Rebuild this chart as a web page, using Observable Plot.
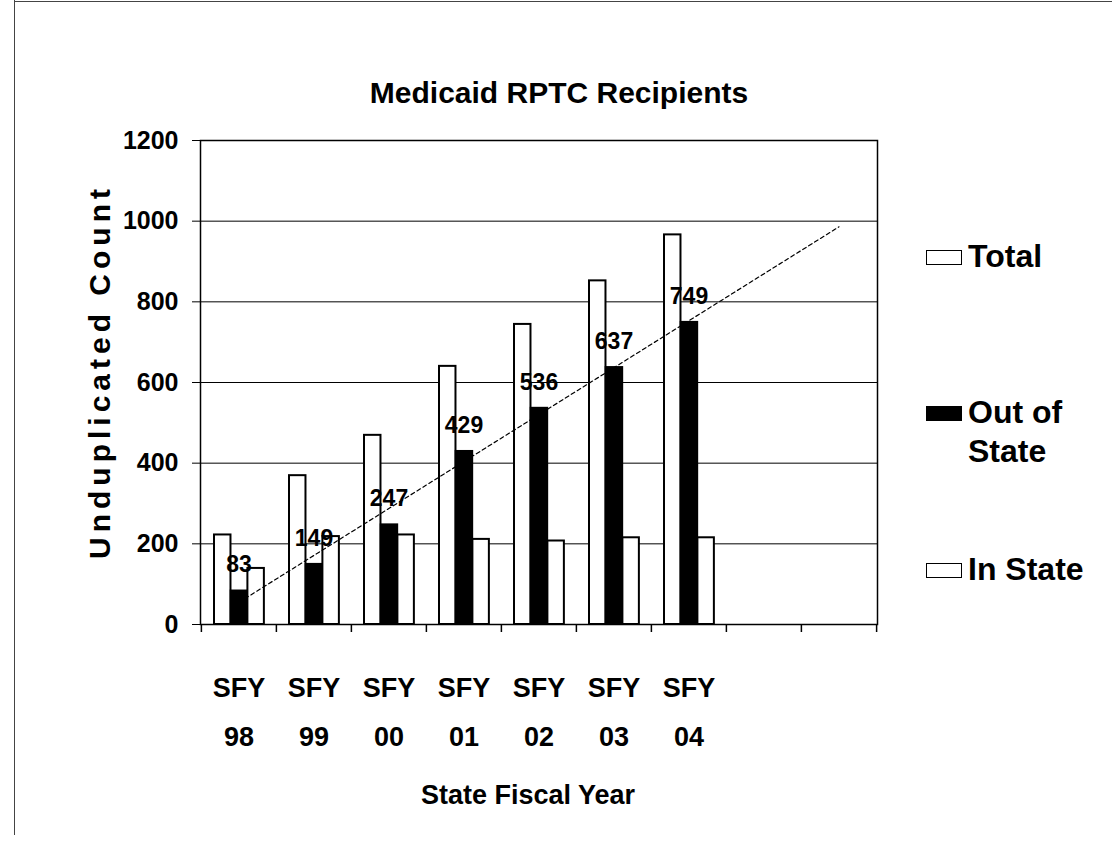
<!DOCTYPE html>
<html>
<head>
<meta charset="utf-8">
<script src="https://cdn.jsdelivr.net/npm/d3@7"></script>
<script src="https://cdn.jsdelivr.net/npm/@observablehq/plot@0.6"></script>
<style>
  html, body { margin: 0; padding: 0; background: white; }
  #wrap { position: relative; width: 1112px; height: 842px; overflow: hidden; background: white;
          font-family: "Liberation Sans", Arial, sans-serif; font-weight: bold; color: black; }
  #wrap svg { position: absolute; left: 0; top: 0; }
  .edgeL { position: absolute; left: 14px; top: 0; width: 0; height: 835px; border-left: 1px solid #444; }
  .edgeT { position: absolute; left: 14px; top: 1px; width: 1098px; height: 0; border-top: 1px solid #444; }
  .leg { position: absolute; font-size: 32px; line-height: 39px; }
  .sw { position: absolute; width: 34px; height: 13px; border: 1.5px solid black; background: white; }
</style>
</head>
<body>
<div id="wrap">
  <div class="edgeL"></div>
  <div class="edgeT"></div>
</div>
<script>
// ---- data ----
const years = ["SFY 98", "SFY 99", "SFY 00", "SFY 01", "SFY 02", "SFY 03", "SFY 04"];
const emptySlots = ["", " "];
const tickLabels = ["SFY\n98", "SFY\n99", "SFY\n00", "SFY\n01", "SFY\n02", "SFY\n03", "SFY\n04"];
const totalVals = [222, 369, 469, 640, 744, 852, 966];
const outVals = [83, 149, 247, 429, 536, 637, 749];
const inVals = [139, 218, 222, 211, 207, 215, 215];
const trendCats = ["SFY 98", " "];
const trendVals = [55, 986];
const yTicks = [0, 200, 400, 600, 800, 1000, 1200];
const seriesNames = ["Total", "Out of\nState", "In State"];
const titleText = "Medicaid RPTC Recipients";
const yTitle = "Unduplicated Count";
const xTitle = "State Fiscal Year";

// ---- tables built from the arrays ----
const slots = years.concat(emptySlots);
const rows = years.map((c, i) => ({cat: c, total: totalVals[i], out: outVals[i], inState: inVals[i], label: tickLabels[i]}));
const trend = trendCats.map((c, i) => ({cat: c, v: trendVals[i]}));

const bw = (1112 - 200 - 235) / slots.length;

const chart = Plot.plot({
  width: 1112,
  height: 842,
  marginTop: 140,
  marginBottom: 218,
  marginLeft: 200,
  marginRight: 235,
  x: {domain: slots, padding: 0, axis: null},
  y: {domain: [0, 1200], axis: null},
  style: {fontFamily: '"Liberation Sans", Arial, sans-serif', fontSize: "26px", fontWeight: "bold", color: "black", background: "transparent", overflow: "visible"},
  marks: [
    Plot.gridY(yTicks.slice(1), {stroke: "black", strokeOpacity: 1, strokeWidth: 1}),
    Plot.barY(rows, {x: "cat", y: "total", fill: "white", stroke: "black", strokeWidth: 2, insetLeft: 13, insetRight: bw - 13 - 16.7}),
    Plot.barY(rows, {x: "cat", y: "out", fill: "black", stroke: "black", strokeWidth: 2, insetLeft: 29.7, insetRight: bw - 29.7 - 16.7}),
    Plot.barY(rows, {x: "cat", y: "inState", fill: "white", stroke: "black", strokeWidth: 2, insetLeft: 46.4, insetRight: bw - 46.4 - 16.7}),
    Plot.line(trend, {x: "cat", y: "v", stroke: "black", strokeWidth: 1.2, strokeDasharray: "4,3"}),
    Plot.text(rows, {x: "cat", y: "out", text: d => String(d.out), dy: -26, fontSize: 23}),
    Plot.frame({stroke: "black", strokeWidth: 1.5}),
    Plot.axisY(yTicks, {tickSize: 8, tickPadding: 14, fontSize: 25, label: null, stroke: "black", tickFormat: d => String(d)}),
    Plot.ruleX(slots, {x: d => d, y1: 0, y2: 0, insetBottom: -8, dx: -bw / 2, stroke: "black", strokeWidth: 1.5}),
    Plot.ruleX(emptySlots.slice(-1), {x: d => d, y1: 0, y2: 0, insetBottom: -8, dx: bw / 2, stroke: "black", strokeWidth: 1.5}),
    Plot.text(rows, {x: "cat", text: "label", frameAnchor: "bottom", lineAnchor: "middle", lineHeight: 1.85, dy: 81, fontSize: 27}),
    Plot.text([xTitle], {frameAnchor: "bottom", lineAnchor: "middle", dx: -11, dy: 171, fontSize: 27}),
    Plot.text([titleText], {frameAnchor: "top", lineAnchor: "middle", dx: 20, dy: -47, fontSize: 30}),
    Plot.text([yTitle], {frameAnchor: "left", textAnchor: "middle", lineAnchor: "middle", rotate: -90, dx: -100, dy: -11, fontSize: 30})
  ]
});
const wrap = document.getElementById("wrap");
wrap.appendChild(chart);
// spaced-out y-axis title, as in the reference
chart.querySelectorAll("text").forEach(t => {
  if (t.textContent === yTitle) t.style.letterSpacing = "5px";
});

// legend
const legPos = [
  {swTop: 250, textTop: 237},
  {swTop: 406, textTop: 393},
  {swTop: 563, textTop: 550}
];
const legFill = ["white", "black", "white"];
seriesNames.forEach((name, i) => {
  const sw = document.createElement("div");
  sw.className = "sw";
  sw.style.left = "926px";
  sw.style.top = legPos[i].swTop + "px";
  sw.style.background = legFill[i];
  wrap.appendChild(sw);
  const t = document.createElement("div");
  t.className = "leg";
  t.style.left = "968px";
  t.style.top = legPos[i].textTop + "px";
  t.innerHTML = name.replace("\n", "<br>");
  wrap.appendChild(t);
});
</script>
</body>
</html>
